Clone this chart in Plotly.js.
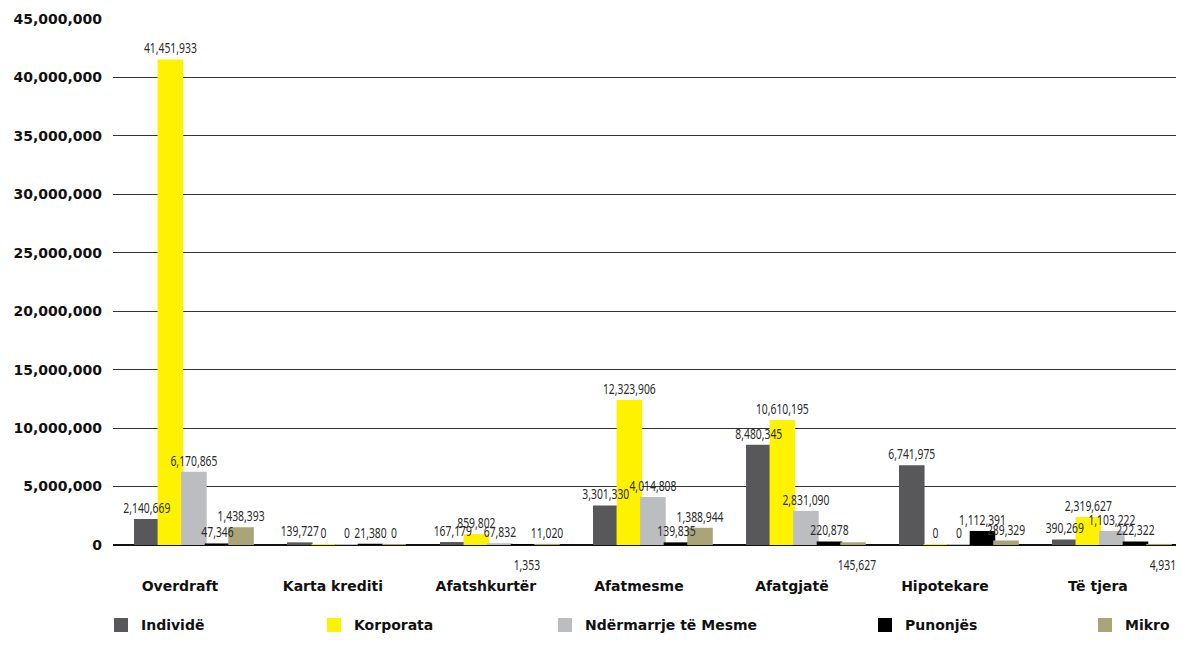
<!DOCTYPE html>
<html>
<head>
<meta charset="utf-8">
<script src="https://cdn.plot.ly/plotly-3.0.1.min.js"></script>
<style>
  html, body { margin: 0; padding: 0; background: #fff; }
  #chart { width: 1183px; height: 648px; }
</style>
</head>
<body>
<div id="chart"></div>
<script>
// ---- Data ----
const categories = ["Overdraft", "Karta krediti", "Afatshkurtër", "Afatmesme", "Afatgjatë", "Hipotekare", "Të tjera"];
const seriesNames = ["Individë", "Korporata", "Ndërmarrje të Mesme", "Punonjës", "Mikro"];
const individe   = [2140669, 139727, 167179, 3301330, 8480345, 6741975, 390269];
const korporata  = [41451933, 0, 859802, 12323906, 10610195, 0, 2319627];
const ndermarrje = [6170865, 0, 67832, 4014808, 2831090, 0, 1103222];
const punonjes   = [47346, 21380, 1353, 139835, 220878, 1112391, 222322];
const mikro      = [1438393, 0, 11020, 1388944, 145627, 289329, 4931];
// labels drawn below the axis: [category index, series index]
const belowLabels = [[2, 3], [4, 4], [6, 4]];

// ---- Style ----
const colors = ["#58585a", "#fff200", "#bcbdc0", "#000000", "#a9a578"];
const legendLeftPx = [113, 326, 557, 877, 1097];
const labelFont = "'Noto Sans', 'DejaVu Sans', sans-serif";
const boldFont = "'DejaVu Sans', 'Liberation Sans', sans-serif";
const labelSqueeze = 0.74;

const allSeries = [individe, korporata, ndermarrje, punonjes, mikro];
const fmt = v => v.toLocaleString('en-US');
const isBelow = (ci, si) => belowLabels.some(b => b[0] === ci && b[1] === si);

const plotL = 113, plotR = 1176, plotT = 19, plotB = 556;
const plotW = plotR - plotL, plotH = plotB - plotT;

const traces = allSeries.map((vals, si) => ({
  type: 'bar',
  name: seriesNames[si],
  x: categories,
  y: vals,
  marker: { color: colors[si], line: { color: colors[si], width: 2 } },
  text: vals.map((v, ci) => isBelow(ci, si) ? '' : fmt(v)),
  textposition: 'outside',
  constraintext: 'none',
  cliponaxis: false,
  textfont: { family: labelFont, size: 14, color: '#2a2a2a' },
  hoverinfo: 'x+y+name',
  legend: si === 0 ? 'legend' : 'legend' + (si + 1)
}));

const bargap = 0.23;
const catPx = plotW / 6.948;
const barPx = catPx * (1 - bargap) / 5;

const annotations = belowLabels.map(([ci, si]) => ({
  x: categories[ci], y: 0, xref: 'x', yref: 'y',
  text: fmt(allSeries[si][ci]),
  showarrow: false,
  xshift: (si - 2) * barPx + 4,
  yshift: -19,
  yanchor: 'middle',
  font: { family: labelFont, size: 14, color: '#2a2a2a' }
}));

const layout = {
  width: 1183, height: 648,
  margin: { l: plotL, r: 1183 - plotR, t: plotT, b: 648 - plotB },
  paper_bgcolor: '#fff', plot_bgcolor: '#fff',
  barmode: 'group',
  bargap: bargap,
  bargroupgap: 0,
  xaxis: {
    type: 'category',
    range: [-0.529, 6.419],
    showgrid: false,
    showline: false,
    zeroline: false,
    ticks: '',
    ticklabelstandoff: 31,
    ticklabelshift: -14,
    tickfont: { family: boldFont, size: 14, color: '#111', weight: 'bold' },
    fixedrange: true
  },
  yaxis: {
    range: [0, 45000000],
    dtick: 5000000,
    tick0: 0,
    tickformat: ',d',
    showgrid: true,
    gridcolor: '#333333',
    gridwidth: 1,
    zeroline: true,
    zerolinecolor: '#111',
    zerolinewidth: 2,
    showline: false,
    ticks: '',
    ticklabelstandoff: 10,
    tickfont: { family: boldFont, size: 14, color: '#111', weight: 'bold' },
    fixedrange: true
  },
  annotations: annotations,
  showlegend: true
};

seriesNames.forEach((n, si) => {
  const key = si === 0 ? 'legend' : 'legend' + (si + 1);
  const centerPx = legendLeftPx[si] + 8;
  layout[key] = {
    x: (centerPx - 20 - plotL) / plotW,
    xanchor: 'left',
    y: (plotB - 638) / plotH,
    yanchor: 'middle',
    orientation: 'h',
    bgcolor: 'rgba(0,0,0,0)',
    borderwidth: 0,
    font: { family: boldFont, size: 14, color: '#111', weight: 'bold' }
  };
});

// Narrow the value labels around their own centre (condensed look) and
// bring them in front of every bar, as in the original.
function finishLabels(gd) {
  const layer = gd.querySelector('.barlayer');
  gd.querySelectorAll('text.bartext, text.annotation-text').forEach(t => {
    const bb = t.getBBox();
    const cx = bb.x + bb.width / 2;
    const old = t.getAttribute('transform') || '';
    t.setAttribute('transform', old + ' translate(' + cx + ',0) scale(' + labelSqueeze + ',1) translate(' + (-cx) + ',0)');
  });
  if (layer) {
    gd.querySelectorAll('.barlayer text.bartext').forEach(t => layer.appendChild(t));
  }
}

Plotly.newPlot('chart', traces, layout, { displayModeBar: false, staticPlot: true })
  .then(gd => finishLabels(gd));
</script>
</body>
</html>
